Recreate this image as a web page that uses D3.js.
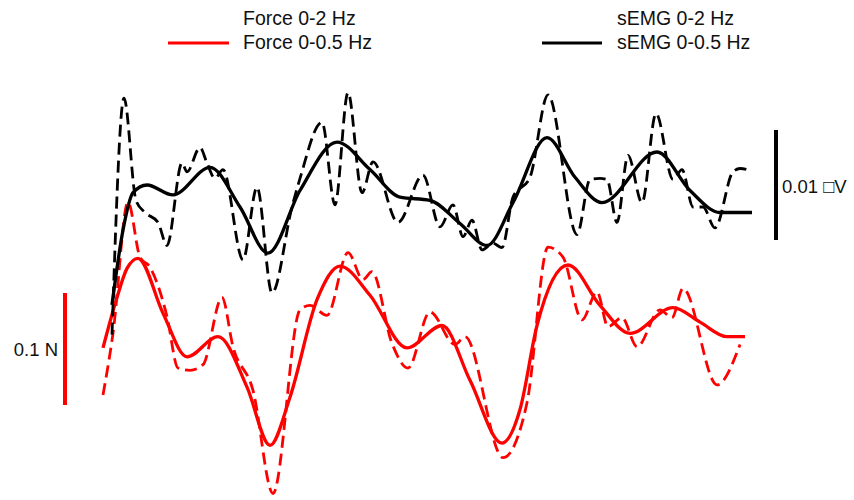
<!DOCTYPE html>
<html>
<head>
<meta charset="utf-8">
<script src="https://cdn.jsdelivr.net/npm/d3@7"></script>
<style>
  html, body { margin: 0; padding: 0; background: #fff; }
  text { font-family: "Liberation Sans", Arial, sans-serif; fill: #111; }
</style>
</head>
<body>
<svg id="chart" width="854" height="500" viewBox="0 0 854 500"></svg>
<script>
// time in s, force in N, sEMG in uV
const forceSlowT = [0, 0.7, 1.2, 1.75, 3.0, 4.2, 5.75, 7.2, 8.35, 9.35, 10.7, 11.85, 13.35, 15.2, 16.95, 18.35, 19.95, 20.85, 21.7, 23.25, 24.85, 26.35, 28.5, 29.85, 31.2, 32.1];
const forceSlow = [0.151, 0.196, 0.222, 0.231, 0.182, 0.143, 0.161, 0.116, 0.064, 0.107, 0.194, 0.224, 0.198, 0.151, 0.171, 0.122, 0.066, 0.096, 0.171, 0.225, 0.189, 0.164, 0.187, 0.174, 0.161, 0.161];

const forceFastT = [0, 0.5, 1.25, 1.85, 2.35, 3.2, 3.75, 4.35, 5.0, 5.95, 6.5, 7.5, 8.5, 9.85, 10.35, 11.2, 12.25, 13.0, 13.45, 14.45, 15.25, 16.35, 17.6, 18.1, 20.0, 21.2, 22.25, 23.0, 23.95, 24.7, 25.25, 25.95, 26.7, 27.85, 28.45, 29.0, 30.7, 31.85];
const forceFast = [0.109, 0.164, 0.281, 0.232, 0.223, 0.179, 0.133, 0.131, 0.136, 0.196, 0.152, 0.113, 0.021, 0.185, 0.189, 0.180, 0.236, 0.212, 0.219, 0.155, 0.133, 0.183, 0.154, 0.161, 0.053, 0.102, 0.241, 0.232, 0.176, 0.201, 0.170, 0.178, 0.152, 0.185, 0.178, 0.204, 0.118, 0.154];

const emgSlowT = [0.45, 1.0, 1.5, 2.2, 3.5, 5.35, 6.85, 8.25, 9.85, 11.7, 13.35, 14.85, 16.35, 17.85, 19.2, 20.5, 22.2, 23.6, 24.95, 27.7, 29.35, 30.85, 32.45];
const emgSlow = [0.0041, 0.0109, 0.0143, 0.0150, 0.0141, 0.0166, 0.0130, 0.0088, 0.0145, 0.0189, 0.0164, 0.0139, 0.0136, 0.0115, 0.0095, 0.0134, 0.0193, 0.0157, 0.0134, 0.0180, 0.0145, 0.0125, 0.0125];

const emgFastT = [0.45, 1.05, 1.65, 2.1, 2.75, 3.2, 3.95, 4.2, 4.85, 5.2, 5.6, 6.0, 7.0, 7.7, 8.45, 9.45, 9.85, 10.95, 11.6, 12.25, 12.95, 13.5, 14.75, 16.0, 16.85, 17.5, 18.0, 18.45, 18.95, 19.5, 19.95, 20.5, 21.35, 22.25, 23.7, 24.35, 24.85, 25.2, 25.7, 26.25, 26.95, 27.65, 28.5, 28.95, 29.5, 30.0, 30.6, 31.5, 31.85, 32.45];
const emgFast = [0.0014, 0.0229, 0.0136, 0.0125, 0.0116, 0.0095, 0.0170, 0.0162, 0.0184, 0.0170, 0.0156, 0.0164, 0.0082, 0.0148, 0.0052, 0.0130, 0.0156, 0.0207, 0.0132, 0.0234, 0.0143, 0.0171, 0.0116, 0.0159, 0.0112, 0.0132, 0.0103, 0.0118, 0.0091, 0.0097, 0.0093, 0.0139, 0.0157, 0.0232, 0.0105, 0.0155, 0.0156, 0.0155, 0.0116, 0.0177, 0.0134, 0.0215, 0.0155, 0.0164, 0.0130, 0.0130, 0.0111, 0.0162, 0.0165, 0.0163];

// scale bars: [from, to] in data units and where they sit in time
const forceBar = [0.1, 0.2];
const forceBarT = -1.9;
const emgBar = [0.01, 0.02];
const emgBarT = 33.65;

const svg = d3.select("#chart");

const x = d3.scaleLinear().domain([0, 32.35]).range([103, 750]);
const yForce = d3.scaleLinear().domain([0, 0.4]).range([517, 69]);
const yEmg = d3.scaleLinear().domain([0, 0.03]).range([350, 20]);

const red = "#ff0000";

function drawLine(ts, vs, yScale, color, dashed) {
  const pts = ts.map((t, i) => [t, vs[i]]);
  const line = d3.line()
    .x((d) => x(d[0]))
    .y((d) => yScale(d[1]))
    .curve(d3.curveMonotoneX);
  svg.append("path")
    .datum(pts)
    .attr("d", line)
    .attr("fill", "none")
    .attr("stroke", color)
    .attr("stroke-width", dashed ? 2.8 : 3.3)
    .attr("stroke-dasharray", dashed ? "12,6" : null)
    .attr("stroke-linejoin", "round");
}

drawLine(forceFastT, forceFast, yForce, red, true);
drawLine(forceSlowT, forceSlow, yForce, red, false);
drawLine(emgFastT, emgFast, yEmg, "#000", true);
drawLine(emgSlowT, emgSlow, yEmg, "#000", false);

// scale bars
svg.append("line")
  .attr("x1", x(forceBarT)).attr("x2", x(forceBarT))
  .attr("y1", yForce(forceBar[0])).attr("y2", yForce(forceBar[1]))
  .attr("stroke", red).attr("stroke-width", 4);
svg.append("text")
  .attr("x", x(forceBarT) - 7)
  .attr("y", (yForce(forceBar[0]) + yForce(forceBar[1])) / 2 + 7)
  .attr("text-anchor", "end")
  .style("font-size", "18.5px")
  .text("0.1 N");

svg.append("line")
  .attr("x1", x(emgBarT)).attr("x2", x(emgBarT))
  .attr("y1", yEmg(emgBar[0])).attr("y2", yEmg(emgBar[1]))
  .attr("stroke", "#000").attr("stroke-width", 4);
svg.append("text")
  .attr("x", x(emgBarT) + 6)
  .attr("y", (yEmg(emgBar[0]) + yEmg(emgBar[1])) / 2 + 8)
  .style("font-size", "18.5px")
  .text("0.01 \u25A1V");

// legend
const legend = svg.append("g").attr("class", "legend");
legend.append("text").attr("x", 243).attr("y", 25).style("font-size", "19.5px").text("Force 0-2 Hz");
legend.append("text").attr("x", 243).attr("y", 49).style("font-size", "19.5px").text("Force 0-0.5 Hz");
legend.append("line").attr("x1", 168).attr("x2", 229).attr("y1", 43).attr("y2", 43)
  .attr("stroke", red).attr("stroke-width", 3);

legend.append("text").attr("x", 617).attr("y", 25).style("font-size", "19.5px").text("sEMG 0-2 Hz");
legend.append("text").attr("x", 617).attr("y", 49).style("font-size", "19.5px").text("sEMG 0-0.5 Hz");
legend.append("line").attr("x1", 542).attr("x2", 602).attr("y1", 43).attr("y2", 43)
  .attr("stroke", "#000").attr("stroke-width", 3);
</script>
</body>
</html>
